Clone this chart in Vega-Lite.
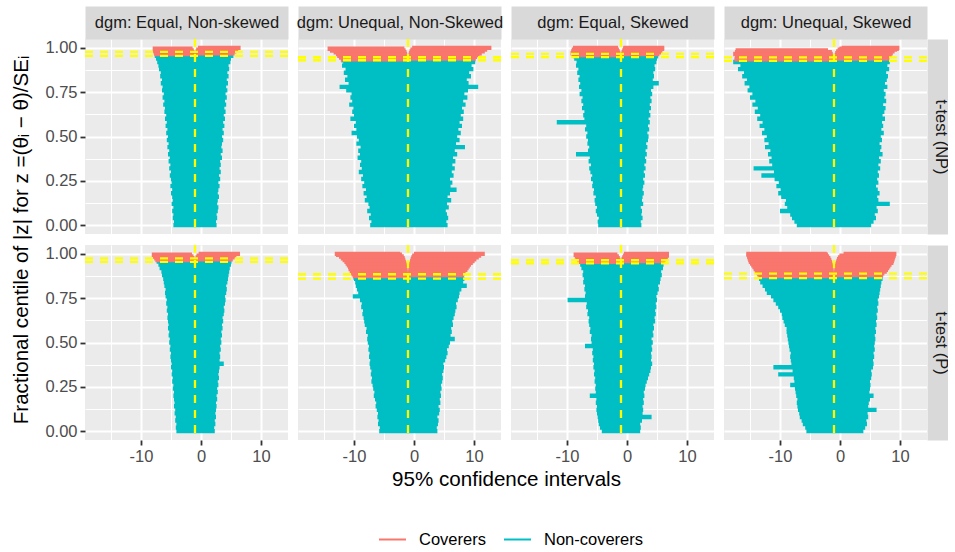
{
"$schema":"https://vega.github.io/schema/vega-lite/v6.json",
"padding":{"left":10,"top":14,"right":0,"bottom":0},
"bounds":"flush",
"columns":4,
"spacing":{"row":11,"column":10},
"resolve":{"scale":{"color":"shared"},"legend":{"color":"shared"}},
"config":{
 "font":"Liberation Sans",
 "view":{"fill":"#EBEBEB","stroke":null},
 "axis":{"domain":false,"labelFont":"Liberation Sans","labelFontSize":16.5,"labelColor":"#4D4D4D","tickColor":"#333333","tickSize":5,"tickWidth":1.8,"gridColor":"#FFFFFF","titleFont":"Liberation Sans","titleFontSize":20.6,"titleColor":"#000000","titleFontWeight":"normal","labelFlush":false,"labelOverlap":false,"labelPadding":3}
},
"datasets":{
"cov":[{"p":"a1","y":0.955},{"p":"a1","y":0.977},{"p":"b1","y":0.930},{"p":"b1","y":0.947},{"p":"c1","y":0.948},{"p":"c1","y":0.966},{"p":"d1","y":0.927},{"p":"d1","y":0.946},{"p":"a2","y":0.955},{"p":"a2","y":0.974},{"p":"b2","y":0.860},{"p":"b2","y":0.885},{"p":"c2","y":0.946},{"p":"c2","y":0.964},{"p":"d2","y":0.863},{"p":"d2","y":0.889}],
"zip":[
{"p":"a1","y":0,"l":-4.6,"u":2.6,"g":"N"},{"p":"a1","y":0.02,"l":-4.5,"u":2.5,"g":"N"},{"p":"a1","y":0.04,"l":-4.7,"u":2.7,"g":"N"},{"p":"a1","y":0.06,"l":-4.6,"u":2.6,"g":"N"},{"p":"a1","y":0.08,"l":-4.8,"u":2.8,"g":"N"},{"p":"a1","y":0.1,"l":-4.6,"u":2.9,"g":"N"},{"p":"a1","y":0.12,"l":-4.9,"u":2.7,"g":"N"},{"p":"a1","y":0.14,"l":-4.7,"u":2.8,"g":"N"},{"p":"a1","y":0.16,"l":-4.8,"u":3.0,"g":"N"},{"p":"a1","y":0.18,"l":-5.0,"u":2.8,"g":"N"},{"p":"a1","y":0.2,"l":-4.8,"u":2.9,"g":"N"},{"p":"a1","y":0.22,"l":-5.1,"u":3.1,"g":"N"},{"p":"a1","y":0.24,"l":-4.9,"u":2.9,"g":"N"},{"p":"a1","y":0.26,"l":-5.0,"u":3.2,"g":"N"},{"p":"a1","y":0.28,"l":-5.2,"u":3.0,"g":"N"},{"p":"a1","y":0.3,"l":-5.0,"u":3.3,"g":"N"},{"p":"a1","y":0.32,"l":-5.3,"u":3.1,"g":"N"},{"p":"a1","y":0.34,"l":-5.1,"u":3.3,"g":"N"},{"p":"a1","y":0.36,"l":-5.4,"u":3.2,"g":"N"},{"p":"a1","y":0.38,"l":-5.2,"u":3.5,"g":"N"},{"p":"a1","y":0.4,"l":-5.5,"u":3.3,"g":"N"},{"p":"a1","y":0.42,"l":-5.3,"u":3.6,"g":"N"},{"p":"a1","y":0.44,"l":-5.6,"u":3.4,"g":"N"},{"p":"a1","y":0.46,"l":-5.4,"u":3.5,"g":"N"},{"p":"a1","y":0.48,"l":-5.7,"u":3.7,"g":"N"},{"p":"a1","y":0.5,"l":-5.5,"u":3.5,"g":"N"},{"p":"a1","y":0.52,"l":-5.8,"u":3.8,"g":"N"},{"p":"a1","y":0.54,"l":-5.6,"u":3.6,"g":"N"},{"p":"a1","y":0.56,"l":-5.9,"u":3.9,"g":"N"},{"p":"a1","y":0.58,"l":-5.7,"u":3.7,"g":"N"},{"p":"a1","y":0.6,"l":-6.0,"u":4.0,"g":"N"},{"p":"a1","y":0.62,"l":-5.8,"u":3.8,"g":"N"},{"p":"a1","y":0.64,"l":-6.1,"u":4.1,"g":"N"},{"p":"a1","y":0.66,"l":-6.0,"u":3.9,"g":"N"},{"p":"a1","y":0.68,"l":-6.3,"u":4.2,"g":"N"},{"p":"a1","y":0.7,"l":-6.1,"u":4.0,"g":"N"},{"p":"a1","y":0.72,"l":-6.4,"u":4.3,"g":"N"},{"p":"a1","y":0.74,"l":-6.2,"u":4.1,"g":"N"},{"p":"a1","y":0.76,"l":-6.5,"u":4.4,"g":"N"},{"p":"a1","y":0.78,"l":-6.4,"u":4.2,"g":"N"},{"p":"a1","y":0.8,"l":-6.7,"u":4.5,"g":"N"},{"p":"a1","y":0.82,"l":-6.5,"u":4.3,"g":"N"},{"p":"a1","y":0.84,"l":-6.8,"u":4.6,"g":"N"},{"p":"a1","y":0.86,"l":-6.7,"u":4.4,"g":"N"},{"p":"a1","y":0.88,"l":-7.0,"u":4.7,"g":"N"},{"p":"a1","y":0.9,"l":-7.1,"u":4.6,"g":"N"},{"p":"a1","y":0.92,"l":-7.3,"u":4.9,"g":"N"},{"p":"a1","y":0.94,"l":-7.5,"u":5.0,"g":"N"},{"p":"a1","y":0.955,"l":-7.7,"u":5.4,"g":"N"},
{"p":"a1","y":0.965,"l":-7.8,"u":-1.05,"g":"C"},{"p":"a1","y":0.97,"l":-0.95,"u":5.6,"g":"C"},{"p":"a1","y":0.975,"l":-7.9,"u":-1.1,"g":"C"},{"p":"a1","y":0.98,"l":-0.9,"u":5.9,"g":"C"},{"p":"a1","y":0.985,"l":-8.0,"u":-1.2,"g":"C"},{"p":"a1","y":0.99,"l":-0.8,"u":6.2,"g":"C"},{"p":"a1","y":0.995,"l":-8.05,"u":-1.4,"g":"C"},{"p":"a1","y":1,"l":-0.5,"u":6.6,"g":"C"},
{"p":"b1","y":0,"l":-7.3,"u":5.6,"g":"N"},{"p":"b1","y":0.02,"l":-7.1,"u":5.4,"g":"N"},{"p":"b1","y":0.04,"l":-7.5,"u":5.7,"g":"N"},{"p":"b1","y":0.06,"l":-7.2,"u":5.5,"g":"N"},{"p":"b1","y":0.08,"l":-7.8,"u":5.3,"g":"N"},{"p":"b1","y":0.1,"l":-7.4,"u":5.8,"g":"N"},{"p":"b1","y":0.12,"l":-7.6,"u":5.5,"g":"N"},{"p":"b1","y":0.14,"l":-8.2,"u":6.2,"g":"N"},{"p":"b1","y":0.16,"l":-7.9,"u":5.6,"g":"N"},{"p":"b1","y":0.18,"l":-8.4,"u":6.0,"g":"N"},{"p":"b1","y":0.2,"l":-8.0,"u":7.1,"g":"N"},{"p":"b1","y":0.22,"l":-8.6,"u":6.1,"g":"N"},{"p":"b1","y":0.24,"l":-8.3,"u":6.4,"g":"N"},{"p":"b1","y":0.26,"l":-8.8,"u":6.0,"g":"N"},{"p":"b1","y":0.28,"l":-8.5,"u":6.6,"g":"N"},{"p":"b1","y":0.3,"l":-9.2,"u":6.3,"g":"N"},{"p":"b1","y":0.32,"l":-8.7,"u":6.8,"g":"N"},{"p":"b1","y":0.34,"l":-9.0,"u":6.4,"g":"N"},{"p":"b1","y":0.36,"l":-8.8,"u":6.9,"g":"N"},{"p":"b1","y":0.38,"l":-9.4,"u":6.5,"g":"N"},{"p":"b1","y":0.4,"l":-9.0,"u":7.2,"g":"N"},{"p":"b1","y":0.42,"l":-9.3,"u":6.8,"g":"N"},{"p":"b1","y":0.44,"l":-8.9,"u":8.5,"g":"N"},{"p":"b1","y":0.46,"l":-9.6,"u":7.0,"g":"N"},{"p":"b1","y":0.48,"l":-9.2,"u":7.6,"g":"N"},{"p":"b1","y":0.5,"l":-9.5,"u":7.2,"g":"N"},{"p":"b1","y":0.52,"l":-10.4,"u":7.8,"g":"N"},{"p":"b1","y":0.54,"l":-9.6,"u":7.4,"g":"N"},{"p":"b1","y":0.56,"l":-10.0,"u":8.0,"g":"N"},{"p":"b1","y":0.58,"l":-9.7,"u":7.6,"g":"N"},{"p":"b1","y":0.6,"l":-10.6,"u":8.2,"g":"N"},{"p":"b1","y":0.62,"l":-10.0,"u":7.8,"g":"N"},{"p":"b1","y":0.64,"l":-10.3,"u":8.3,"g":"N"},{"p":"b1","y":0.66,"l":-10.1,"u":8.0,"g":"N"},{"p":"b1","y":0.68,"l":-10.8,"u":8.6,"g":"N"},{"p":"b1","y":0.7,"l":-10.3,"u":8.2,"g":"N"},{"p":"b1","y":0.72,"l":-10.6,"u":8.9,"g":"N"},{"p":"b1","y":0.74,"l":-10.4,"u":8.4,"g":"N"},{"p":"b1","y":0.76,"l":-11.3,"u":9.0,"g":"N"},{"p":"b1","y":0.78,"l":-12.4,"u":10.7,"g":"N"},{"p":"b1","y":0.8,"l":-10.9,"u":9.1,"g":"N"},{"p":"b1","y":0.82,"l":-11.5,"u":8.8,"g":"N"},{"p":"b1","y":0.84,"l":-11.1,"u":9.5,"g":"N"},{"p":"b1","y":0.86,"l":-11.7,"u":9.2,"g":"N"},{"p":"b1","y":0.88,"l":-11.4,"u":9.9,"g":"N"},{"p":"b1","y":0.9,"l":-12.0,"u":9.6,"g":"N"},{"p":"b1","y":0.92,"l":-11.8,"u":10.2,"g":"N"},{"p":"b1","y":0.93,"l":-12.1,"u":10.2,"g":"N"},
{"p":"b1","y":0.935,"l":-12.2,"u":-1.02,"g":"C"},{"p":"b1","y":0.94,"l":-0.97,"u":10.3,"g":"C"},{"p":"b1","y":0.945,"l":-12.5,"u":-1.05,"g":"C"},{"p":"b1","y":0.95,"l":-0.93,"u":10.5,"g":"C"},{"p":"b1","y":0.955,"l":-12.8,"u":-1.1,"g":"C"},{"p":"b1","y":0.96,"l":-0.9,"u":10.9,"g":"C"},{"p":"b1","y":0.965,"l":-13.0,"u":-1.15,"g":"C"},{"p":"b1","y":0.97,"l":-0.85,"u":11.3,"g":"C"},{"p":"b1","y":0.975,"l":-13.4,"u":-1.25,"g":"C"},{"p":"b1","y":0.98,"l":-0.75,"u":11.8,"g":"C"},{"p":"b1","y":0.985,"l":-14.0,"u":-1.4,"g":"C"},{"p":"b1","y":0.99,"l":-0.6,"u":12.2,"g":"C"},{"p":"b1","y":0.995,"l":-14.4,"u":-1.6,"g":"C"},{"p":"b1","y":1,"l":-0.3,"u":12.9,"g":"C"},
{"p":"c1","y":0,"l":-4.8,"u":2.4,"g":"N"},{"p":"c1","y":0.02,"l":-4.9,"u":2.3,"g":"N"},{"p":"c1","y":0.04,"l":-4.7,"u":2.6,"g":"N"},{"p":"c1","y":0.06,"l":-5.0,"u":2.4,"g":"N"},{"p":"c1","y":0.08,"l":-5.2,"u":2.5,"g":"N"},{"p":"c1","y":0.1,"l":-5.0,"u":2.3,"g":"N"},{"p":"c1","y":0.12,"l":-5.3,"u":2.7,"g":"N"},{"p":"c1","y":0.14,"l":-5.4,"u":2.5,"g":"N"},{"p":"c1","y":0.16,"l":-5.2,"u":2.6,"g":"N"},{"p":"c1","y":0.18,"l":-5.6,"u":2.8,"g":"N"},{"p":"c1","y":0.2,"l":-5.5,"u":2.6,"g":"N"},{"p":"c1","y":0.22,"l":-5.8,"u":2.7,"g":"N"},{"p":"c1","y":0.24,"l":-5.7,"u":2.9,"g":"N"},{"p":"c1","y":0.26,"l":-6.0,"u":2.7,"g":"N"},{"p":"c1","y":0.28,"l":-5.8,"u":3.0,"g":"N"},{"p":"c1","y":0.3,"l":-6.1,"u":2.8,"g":"N"},{"p":"c1","y":0.32,"l":-6.3,"u":3.1,"g":"N"},{"p":"c1","y":0.34,"l":-6.0,"u":2.9,"g":"N"},{"p":"c1","y":0.36,"l":-6.4,"u":3.2,"g":"N"},{"p":"c1","y":0.38,"l":-6.2,"u":3.0,"g":"N"},{"p":"c1","y":0.4,"l":-8.5,"u":3.3,"g":"N"},{"p":"c1","y":0.42,"l":-6.5,"u":3.1,"g":"N"},{"p":"c1","y":0.44,"l":-6.3,"u":3.4,"g":"N"},{"p":"c1","y":0.46,"l":-6.6,"u":3.2,"g":"N"},{"p":"c1","y":0.48,"l":-6.5,"u":3.5,"g":"N"},{"p":"c1","y":0.5,"l":-6.8,"u":3.6,"g":"N"},{"p":"c1","y":0.52,"l":-6.6,"u":3.4,"g":"N"},{"p":"c1","y":0.54,"l":-7.0,"u":3.7,"g":"N"},{"p":"c1","y":0.56,"l":-6.8,"u":3.5,"g":"N"},{"p":"c1","y":0.58,"l":-11.7,"u":3.8,"g":"N"},{"p":"c1","y":0.6,"l":-7.1,"u":3.6,"g":"N"},{"p":"c1","y":0.62,"l":-7.3,"u":3.9,"g":"N"},{"p":"c1","y":0.64,"l":-7.1,"u":3.7,"g":"N"},{"p":"c1","y":0.66,"l":-7.5,"u":4.0,"g":"N"},{"p":"c1","y":0.68,"l":-7.3,"u":3.8,"g":"N"},{"p":"c1","y":0.7,"l":-7.6,"u":4.1,"g":"N"},{"p":"c1","y":0.72,"l":-7.4,"u":3.9,"g":"N"},{"p":"c1","y":0.74,"l":-7.9,"u":4.2,"g":"N"},{"p":"c1","y":0.76,"l":-7.6,"u":4.0,"g":"N"},{"p":"c1","y":0.78,"l":-8.0,"u":4.4,"g":"N"},{"p":"c1","y":0.8,"l":-7.8,"u":5.3,"g":"N"},{"p":"c1","y":0.82,"l":-8.1,"u":4.3,"g":"N"},{"p":"c1","y":0.84,"l":-7.9,"u":4.5,"g":"N"},{"p":"c1","y":0.86,"l":-8.3,"u":4.4,"g":"N"},{"p":"c1","y":0.88,"l":-8.1,"u":4.7,"g":"N"},{"p":"c1","y":0.9,"l":-8.5,"u":4.6,"g":"N"},{"p":"c1","y":0.92,"l":-8.4,"u":4.9,"g":"N"},{"p":"c1","y":0.94,"l":-8.8,"u":5.0,"g":"N"},{"p":"c1","y":0.952,"l":-8.9,"u":5.2,"g":"N"},
{"p":"c1","y":0.96,"l":-9.2,"u":-1.05,"g":"C"},{"p":"c1","y":0.965,"l":-0.95,"u":5.4,"g":"C"},{"p":"c1","y":0.97,"l":-9.4,"u":-1.1,"g":"C"},{"p":"c1","y":0.975,"l":-0.9,"u":5.7,"g":"C"},{"p":"c1","y":0.98,"l":-9.3,"u":-1.2,"g":"C"},{"p":"c1","y":0.985,"l":-0.8,"u":5.9,"g":"C"},{"p":"c1","y":0.99,"l":-9.2,"u":-1.35,"g":"C"},{"p":"c1","y":0.995,"l":-0.65,"u":6.2,"g":"C"},{"p":"c1","y":1,"l":-9.0,"u":-1.5,"g":"C"},{"p":"c1","y":1,"l":-0.6,"u":6.2,"g":"C"},
{"p":"d1","y":0,"l":-7.2,"u":5.2,"g":"N"},{"p":"d1","y":0.02,"l":-7.6,"u":5.6,"g":"N"},{"p":"d1","y":0.04,"l":-8.0,"u":6.0,"g":"N"},{"p":"d1","y":0.06,"l":-8.3,"u":5.8,"g":"N"},{"p":"d1","y":0.08,"l":-10.0,"u":6.3,"g":"N"},{"p":"d1","y":0.1,"l":-8.8,"u":6.1,"g":"N"},{"p":"d1","y":0.12,"l":-9.2,"u":8.3,"g":"N"},{"p":"d1","y":0.14,"l":-9.0,"u":6.4,"g":"N"},{"p":"d1","y":0.16,"l":-9.8,"u":6.2,"g":"N"},{"p":"d1","y":0.18,"l":-10.3,"u":6.6,"g":"N"},{"p":"d1","y":0.2,"l":-9.9,"u":6.3,"g":"N"},{"p":"d1","y":0.22,"l":-10.6,"u":6.0,"g":"N"},{"p":"d1","y":0.24,"l":-10.2,"u":6.4,"g":"N"},{"p":"d1","y":0.26,"l":-10.9,"u":6.2,"g":"N"},{"p":"d1","y":0.28,"l":-13.1,"u":6.5,"g":"N"},{"p":"d1","y":0.3,"l":-11.0,"u":6.3,"g":"N"},{"p":"d1","y":0.32,"l":-14.4,"u":6.7,"g":"N"},{"p":"d1","y":0.34,"l":-11.3,"u":6.4,"g":"N"},{"p":"d1","y":0.36,"l":-11.8,"u":6.8,"g":"N"},{"p":"d1","y":0.38,"l":-11.4,"u":6.5,"g":"N"},{"p":"d1","y":0.4,"l":-12.0,"u":7.1,"g":"N"},{"p":"d1","y":0.42,"l":-11.6,"u":6.7,"g":"N"},{"p":"d1","y":0.44,"l":-12.5,"u":6.9,"g":"N"},{"p":"d1","y":0.46,"l":-11.9,"u":6.6,"g":"N"},{"p":"d1","y":0.48,"l":-12.6,"u":7.0,"g":"N"},{"p":"d1","y":0.5,"l":-12.2,"u":6.8,"g":"N"},{"p":"d1","y":0.52,"l":-13.0,"u":7.3,"g":"N"},{"p":"d1","y":0.54,"l":-12.6,"u":6.9,"g":"N"},{"p":"d1","y":0.56,"l":-13.4,"u":7.2,"g":"N"},{"p":"d1","y":0.58,"l":-12.9,"u":7.0,"g":"N"},{"p":"d1","y":0.6,"l":-13.8,"u":7.5,"g":"N"},{"p":"d1","y":0.62,"l":-13.3,"u":7.1,"g":"N"},{"p":"d1","y":0.64,"l":-14.2,"u":7.4,"g":"N"},{"p":"d1","y":0.66,"l":-13.7,"u":7.6,"g":"N"},{"p":"d1","y":0.68,"l":-14.6,"u":7.2,"g":"N"},{"p":"d1","y":0.7,"l":-14.1,"u":7.7,"g":"N"},{"p":"d1","y":0.72,"l":-15.0,"u":7.4,"g":"N"},{"p":"d1","y":0.74,"l":-14.6,"u":7.6,"g":"N"},{"p":"d1","y":0.76,"l":-15.4,"u":7.3,"g":"N"},{"p":"d1","y":0.78,"l":-15.1,"u":7.9,"g":"N"},{"p":"d1","y":0.8,"l":-15.9,"u":7.5,"g":"N"},{"p":"d1","y":0.82,"l":-15.5,"u":7.8,"g":"N"},{"p":"d1","y":0.84,"l":-16.3,"u":8.0,"g":"N"},{"p":"d1","y":0.86,"l":-16.0,"u":7.7,"g":"N"},{"p":"d1","y":0.88,"l":-17.0,"u":8.2,"g":"N"},{"p":"d1","y":0.9,"l":-16.6,"u":7.9,"g":"N"},{"p":"d1","y":0.92,"l":-17.8,"u":8.3,"g":"N"},{"p":"d1","y":0.928,"l":-17.3,"u":8.1,"g":"N"},
{"p":"d1","y":0.935,"l":-17.6,"u":-1.02,"g":"C"},{"p":"d1","y":0.94,"l":-0.97,"u":8.2,"g":"C"},{"p":"d1","y":0.945,"l":-17.2,"u":-1.05,"g":"C"},{"p":"d1","y":0.95,"l":-0.93,"u":8.3,"g":"C"},{"p":"d1","y":0.955,"l":-17.5,"u":-1.1,"g":"C"},{"p":"d1","y":0.96,"l":-0.88,"u":8.6,"g":"C"},{"p":"d1","y":0.965,"l":-17.8,"u":-1.2,"g":"C"},{"p":"d1","y":0.97,"l":-0.8,"u":8.8,"g":"C"},{"p":"d1","y":0.975,"l":-17.5,"u":-1.35,"g":"C"},{"p":"d1","y":0.98,"l":-0.65,"u":9.1,"g":"C"},{"p":"d1","y":0.985,"l":-17.4,"u":-2.0,"g":"C"},{"p":"d1","y":0.99,"l":-0.4,"u":9.5,"g":"C"},{"p":"d1","y":0.995,"l":-0.1,"u":9.8,"g":"C"},{"p":"d1","y":1,"l":0.3,"u":9.9,"g":"C"},
{"p":"a2","y":0,"l":-4.1,"u":2.3,"g":"N"},{"p":"a2","y":0.02,"l":-4.2,"u":2.2,"g":"N"},{"p":"a2","y":0.04,"l":-4.1,"u":2.4,"g":"N"},{"p":"a2","y":0.06,"l":-4.3,"u":2.3,"g":"N"},{"p":"a2","y":0.08,"l":-4.2,"u":2.5,"g":"N"},{"p":"a2","y":0.1,"l":-4.4,"u":2.4,"g":"N"},{"p":"a2","y":0.12,"l":-4.3,"u":2.5,"g":"N"},{"p":"a2","y":0.14,"l":-4.5,"u":2.6,"g":"N"},{"p":"a2","y":0.16,"l":-4.4,"u":2.5,"g":"N"},{"p":"a2","y":0.18,"l":-4.5,"u":2.7,"g":"N"},{"p":"a2","y":0.2,"l":-4.6,"u":2.6,"g":"N"},{"p":"a2","y":0.22,"l":-4.5,"u":2.8,"g":"N"},{"p":"a2","y":0.24,"l":-4.7,"u":2.7,"g":"N"},{"p":"a2","y":0.26,"l":-4.6,"u":2.9,"g":"N"},{"p":"a2","y":0.28,"l":-4.8,"u":2.8,"g":"N"},{"p":"a2","y":0.3,"l":-4.7,"u":3.0,"g":"N"},{"p":"a2","y":0.32,"l":-4.9,"u":2.9,"g":"N"},{"p":"a2","y":0.34,"l":-4.8,"u":3.0,"g":"N"},{"p":"a2","y":0.36,"l":-5.0,"u":3.1,"g":"N"},{"p":"a2","y":0.38,"l":-4.9,"u":3.8,"g":"N"},{"p":"a2","y":0.4,"l":-5.0,"u":3.1,"g":"N"},{"p":"a2","y":0.42,"l":-5.1,"u":3.2,"g":"N"},{"p":"a2","y":0.44,"l":-5.0,"u":3.1,"g":"N"},{"p":"a2","y":0.46,"l":-5.2,"u":3.3,"g":"N"},{"p":"a2","y":0.48,"l":-5.1,"u":3.2,"g":"N"},{"p":"a2","y":0.5,"l":-5.3,"u":3.4,"g":"N"},{"p":"a2","y":0.52,"l":-5.2,"u":3.3,"g":"N"},{"p":"a2","y":0.54,"l":-5.4,"u":3.5,"g":"N"},{"p":"a2","y":0.56,"l":-5.3,"u":3.4,"g":"N"},{"p":"a2","y":0.58,"l":-5.5,"u":3.6,"g":"N"},{"p":"a2","y":0.6,"l":-5.4,"u":3.5,"g":"N"},{"p":"a2","y":0.62,"l":-5.5,"u":3.7,"g":"N"},{"p":"a2","y":0.64,"l":-5.6,"u":3.6,"g":"N"},{"p":"a2","y":0.66,"l":-5.5,"u":3.8,"g":"N"},{"p":"a2","y":0.68,"l":-5.7,"u":3.9,"g":"N"},{"p":"a2","y":0.7,"l":-5.6,"u":3.8,"g":"N"},{"p":"a2","y":0.72,"l":-5.8,"u":4.0,"g":"N"},{"p":"a2","y":0.74,"l":-5.7,"u":4.1,"g":"N"},{"p":"a2","y":0.76,"l":-5.9,"u":4.0,"g":"N"},{"p":"a2","y":0.78,"l":-6.0,"u":4.2,"g":"N"},{"p":"a2","y":0.8,"l":-5.9,"u":4.3,"g":"N"},{"p":"a2","y":0.82,"l":-6.1,"u":4.2,"g":"N"},{"p":"a2","y":0.84,"l":-6.2,"u":4.4,"g":"N"},{"p":"a2","y":0.86,"l":-6.3,"u":4.5,"g":"N"},{"p":"a2","y":0.88,"l":-6.5,"u":4.6,"g":"N"},{"p":"a2","y":0.9,"l":-6.6,"u":4.7,"g":"N"},{"p":"a2","y":0.92,"l":-6.9,"u":4.8,"g":"N"},{"p":"a2","y":0.94,"l":-7.1,"u":5.0,"g":"N"},{"p":"a2","y":0.956,"l":-7.4,"u":5.1,"g":"N"},
{"p":"a2","y":0.965,"l":-7.6,"u":-1.05,"g":"C"},{"p":"a2","y":0.97,"l":-0.95,"u":5.3,"g":"C"},{"p":"a2","y":0.975,"l":-7.8,"u":-1.1,"g":"C"},{"p":"a2","y":0.98,"l":-0.9,"u":5.6,"g":"C"},{"p":"a2","y":0.985,"l":-8.0,"u":-1.25,"g":"C"},{"p":"a2","y":0.99,"l":-0.75,"u":5.9,"g":"C"},{"p":"a2","y":0.995,"l":-8.2,"u":-1.5,"g":"C"},{"p":"a2","y":1,"l":-0.4,"u":6.5,"g":"C"},
{"p":"b2","y":0,"l":-5.8,"u":3.9,"g":"N"},{"p":"b2","y":0.02,"l":-5.7,"u":3.8,"g":"N"},{"p":"b2","y":0.04,"l":-6.0,"u":4.0,"g":"N"},{"p":"b2","y":0.06,"l":-5.9,"u":4.1,"g":"N"},{"p":"b2","y":0.08,"l":-6.1,"u":3.9,"g":"N"},{"p":"b2","y":0.1,"l":-6.0,"u":4.2,"g":"N"},{"p":"b2","y":0.12,"l":-6.2,"u":4.3,"g":"N"},{"p":"b2","y":0.14,"l":-6.4,"u":4.1,"g":"N"},{"p":"b2","y":0.16,"l":-6.3,"u":4.4,"g":"N"},{"p":"b2","y":0.18,"l":-6.5,"u":4.3,"g":"N"},{"p":"b2","y":0.2,"l":-6.7,"u":4.5,"g":"N"},{"p":"b2","y":0.22,"l":-6.6,"u":4.4,"g":"N"},{"p":"b2","y":0.24,"l":-6.8,"u":4.6,"g":"N"},{"p":"b2","y":0.26,"l":-6.9,"u":4.5,"g":"N"},{"p":"b2","y":0.28,"l":-7.1,"u":4.7,"g":"N"},{"p":"b2","y":0.3,"l":-7.0,"u":4.8,"g":"N"},{"p":"b2","y":0.32,"l":-7.2,"u":4.7,"g":"N"},{"p":"b2","y":0.34,"l":-7.1,"u":4.9,"g":"N"},{"p":"b2","y":0.36,"l":-7.3,"u":5.0,"g":"N"},{"p":"b2","y":0.38,"l":-7.4,"u":4.9,"g":"N"},{"p":"b2","y":0.4,"l":-7.3,"u":5.2,"g":"N"},{"p":"b2","y":0.42,"l":-7.5,"u":5.4,"g":"N"},{"p":"b2","y":0.44,"l":-7.4,"u":5.6,"g":"N"},{"p":"b2","y":0.46,"l":-7.6,"u":5.5,"g":"N"},{"p":"b2","y":0.48,"l":-7.5,"u":5.8,"g":"N"},{"p":"b2","y":0.5,"l":-7.7,"u":6.0,"g":"N"},{"p":"b2","y":0.52,"l":-7.8,"u":6.8,"g":"N"},{"p":"b2","y":0.54,"l":-7.7,"u":6.1,"g":"N"},{"p":"b2","y":0.56,"l":-8.0,"u":6.3,"g":"N"},{"p":"b2","y":0.58,"l":-7.9,"u":6.2,"g":"N"},{"p":"b2","y":0.6,"l":-8.2,"u":6.5,"g":"N"},{"p":"b2","y":0.62,"l":-8.3,"u":6.4,"g":"N"},{"p":"b2","y":0.64,"l":-8.4,"u":6.6,"g":"N"},{"p":"b2","y":0.66,"l":-8.6,"u":6.8,"g":"N"},{"p":"b2","y":0.68,"l":-8.5,"u":6.9,"g":"N"},{"p":"b2","y":0.7,"l":-8.8,"u":7.1,"g":"N"},{"p":"b2","y":0.72,"l":-8.7,"u":7.0,"g":"N"},{"p":"b2","y":0.74,"l":-9.0,"u":7.3,"g":"N"},{"p":"b2","y":0.76,"l":-10.2,"u":7.5,"g":"N"},{"p":"b2","y":0.78,"l":-9.3,"u":7.6,"g":"N"},{"p":"b2","y":0.8,"l":-9.5,"u":7.9,"g":"N"},{"p":"b2","y":0.82,"l":-9.7,"u":8.8,"g":"N"},{"p":"b2","y":0.84,"l":-9.8,"u":8.2,"g":"N"},{"p":"b2","y":0.86,"l":-10.0,"u":8.4,"g":"N"},{"p":"b2","y":0.866,"l":-10.1,"u":8.3,"g":"N"},
{"p":"b2","y":0.875,"l":-10.2,"u":-1.02,"g":"C"},{"p":"b2","y":0.88,"l":-0.98,"u":8.3,"g":"C"},{"p":"b2","y":0.885,"l":-10.4,"u":-1.03,"g":"C"},{"p":"b2","y":0.89,"l":-0.97,"u":8.5,"g":"C"},{"p":"b2","y":0.895,"l":-10.6,"u":-1.05,"g":"C"},{"p":"b2","y":0.9,"l":-0.95,"u":8.6,"g":"C"},{"p":"b2","y":0.905,"l":-10.7,"u":-1.08,"g":"C"},{"p":"b2","y":0.91,"l":-0.92,"u":8.9,"g":"C"},{"p":"b2","y":0.915,"l":-10.9,"u":-1.1,"g":"C"},{"p":"b2","y":0.92,"l":-0.88,"u":9.1,"g":"C"},{"p":"b2","y":0.925,"l":-11.0,"u":-1.15,"g":"C"},{"p":"b2","y":0.93,"l":-0.85,"u":9.3,"g":"C"},{"p":"b2","y":0.935,"l":-11.2,"u":-1.2,"g":"C"},{"p":"b2","y":0.94,"l":-0.8,"u":9.5,"g":"C"},{"p":"b2","y":0.945,"l":-11.4,"u":-1.25,"g":"C"},{"p":"b2","y":0.95,"l":-0.72,"u":9.8,"g":"C"},{"p":"b2","y":0.955,"l":-11.6,"u":-1.35,"g":"C"},{"p":"b2","y":0.96,"l":-0.65,"u":10.1,"g":"C"},{"p":"b2","y":0.965,"l":-11.9,"u":-1.45,"g":"C"},{"p":"b2","y":0.97,"l":-0.55,"u":10.4,"g":"C"},{"p":"b2","y":0.975,"l":-12.2,"u":-1.55,"g":"C"},{"p":"b2","y":0.98,"l":-0.45,"u":10.8,"g":"C"},{"p":"b2","y":0.985,"l":-12.5,"u":-1.7,"g":"C"},{"p":"b2","y":0.99,"l":-0.3,"u":11.2,"g":"C"},{"p":"b2","y":0.995,"l":-13.0,"u":-2.0,"g":"C"},{"p":"b2","y":1,"l":0.0,"u":11.8,"g":"C"},{"p":"b2","y":1,"l":-13.2,"u":-2.3,"g":"C"},
{"p":"c2","y":0,"l":-4.2,"u":2.2,"g":"N"},{"p":"c2","y":0.02,"l":-4.5,"u":2.3,"g":"N"},{"p":"c2","y":0.04,"l":-4.7,"u":2.2,"g":"N"},{"p":"c2","y":0.06,"l":-4.8,"u":2.5,"g":"N"},{"p":"c2","y":0.08,"l":-4.9,"u":4.1,"g":"N"},{"p":"c2","y":0.1,"l":-5.0,"u":2.6,"g":"N"},{"p":"c2","y":0.12,"l":-5.1,"u":2.7,"g":"N"},{"p":"c2","y":0.14,"l":-5.0,"u":2.6,"g":"N"},{"p":"c2","y":0.16,"l":-5.2,"u":2.8,"g":"N"},{"p":"c2","y":0.18,"l":-5.1,"u":2.7,"g":"N"},{"p":"c2","y":0.2,"l":-6.2,"u":2.9,"g":"N"},{"p":"c2","y":0.22,"l":-5.2,"u":2.8,"g":"N"},{"p":"c2","y":0.24,"l":-5.3,"u":3.0,"g":"N"},{"p":"c2","y":0.26,"l":-5.2,"u":3.1,"g":"N"},{"p":"c2","y":0.28,"l":-5.4,"u":3.3,"g":"N"},{"p":"c2","y":0.3,"l":-5.3,"u":3.5,"g":"N"},{"p":"c2","y":0.32,"l":-5.5,"u":3.7,"g":"N"},{"p":"c2","y":0.34,"l":-5.4,"u":3.9,"g":"N"},{"p":"c2","y":0.36,"l":-5.6,"u":4.0,"g":"N"},{"p":"c2","y":0.38,"l":-5.5,"u":4.2,"g":"N"},{"p":"c2","y":0.4,"l":-5.7,"u":4.0,"g":"N"},{"p":"c2","y":0.42,"l":-5.6,"u":4.1,"g":"N"},{"p":"c2","y":0.44,"l":-5.8,"u":4.0,"g":"N"},{"p":"c2","y":0.46,"l":-5.7,"u":4.2,"g":"N"},{"p":"c2","y":0.48,"l":-7.0,"u":4.1,"g":"N"},{"p":"c2","y":0.5,"l":-5.9,"u":4.3,"g":"N"},{"p":"c2","y":0.52,"l":-6.0,"u":4.1,"g":"N"},{"p":"c2","y":0.54,"l":-5.9,"u":4.4,"g":"N"},{"p":"c2","y":0.56,"l":-6.2,"u":4.3,"g":"N"},{"p":"c2","y":0.58,"l":-6.1,"u":4.5,"g":"N"},{"p":"c2","y":0.6,"l":-6.3,"u":4.4,"g":"N"},{"p":"c2","y":0.62,"l":-6.4,"u":4.7,"g":"N"},{"p":"c2","y":0.64,"l":-6.3,"u":4.6,"g":"N"},{"p":"c2","y":0.66,"l":-6.6,"u":4.8,"g":"N"},{"p":"c2","y":0.68,"l":-6.5,"u":4.7,"g":"N"},{"p":"c2","y":0.7,"l":-6.8,"u":4.9,"g":"N"},{"p":"c2","y":0.72,"l":-6.7,"u":4.8,"g":"N"},{"p":"c2","y":0.74,"l":-9.9,"u":5.0,"g":"N"},{"p":"c2","y":0.76,"l":-7.0,"u":4.9,"g":"N"},{"p":"c2","y":0.78,"l":-6.9,"u":5.1,"g":"N"},{"p":"c2","y":0.8,"l":-7.1,"u":5.3,"g":"N"},{"p":"c2","y":0.82,"l":-7.0,"u":5.2,"g":"N"},{"p":"c2","y":0.84,"l":-7.3,"u":5.5,"g":"N"},{"p":"c2","y":0.86,"l":-7.2,"u":5.6,"g":"N"},{"p":"c2","y":0.88,"l":-7.4,"u":5.8,"g":"N"},{"p":"c2","y":0.9,"l":-7.3,"u":5.7,"g":"N"},{"p":"c2","y":0.92,"l":-7.6,"u":6.0,"g":"N"},{"p":"c2","y":0.94,"l":-7.8,"u":6.1,"g":"N"},{"p":"c2","y":0.947,"l":-7.7,"u":6.0,"g":"N"},
{"p":"c2","y":0.955,"l":-8.0,"u":-1.05,"g":"C"},{"p":"c2","y":0.96,"l":-0.95,"u":6.3,"g":"C"},{"p":"c2","y":0.965,"l":-8.3,"u":-1.1,"g":"C"},{"p":"c2","y":0.97,"l":-0.9,"u":6.5,"g":"C"},{"p":"c2","y":0.975,"l":-8.5,"u":-1.2,"g":"C"},{"p":"c2","y":0.98,"l":-0.8,"u":6.8,"g":"C"},{"p":"c2","y":0.985,"l":-8.7,"u":-1.35,"g":"C"},{"p":"c2","y":0.99,"l":-0.65,"u":7.0,"g":"C"},{"p":"c2","y":0.995,"l":-8.9,"u":-1.6,"g":"C"},{"p":"c2","y":1,"l":-0.5,"u":7.0,"g":"C"},
{"p":"d2","y":0,"l":-5.6,"u":3.9,"g":"N"},{"p":"d2","y":0.02,"l":-5.8,"u":4.2,"g":"N"},{"p":"d2","y":0.04,"l":-6.2,"u":4.5,"g":"N"},{"p":"d2","y":0.06,"l":-6.4,"u":4.4,"g":"N"},{"p":"d2","y":0.08,"l":-6.7,"u":4.7,"g":"N"},{"p":"d2","y":0.1,"l":-6.8,"u":4.6,"g":"N"},{"p":"d2","y":0.12,"l":-7.0,"u":6.1,"g":"N"},{"p":"d2","y":0.14,"l":-7.1,"u":4.7,"g":"N"},{"p":"d2","y":0.16,"l":-7.2,"u":4.8,"g":"N"},{"p":"d2","y":0.18,"l":-7.1,"u":5.0,"g":"N"},{"p":"d2","y":0.2,"l":-7.3,"u":5.6,"g":"N"},{"p":"d2","y":0.22,"l":-7.4,"u":4.9,"g":"N"},{"p":"d2","y":0.24,"l":-7.5,"u":5.0,"g":"N"},{"p":"d2","y":0.26,"l":-8.3,"u":5.1,"g":"N"},{"p":"d2","y":0.28,"l":-7.6,"u":5.0,"g":"N"},{"p":"d2","y":0.3,"l":-7.7,"u":5.2,"g":"N"},{"p":"d2","y":0.32,"l":-10.3,"u":5.3,"g":"N"},{"p":"d2","y":0.34,"l":-7.9,"u":5.2,"g":"N"},{"p":"d2","y":0.36,"l":-11.1,"u":5.5,"g":"N"},{"p":"d2","y":0.38,"l":-8.1,"u":5.6,"g":"N"},{"p":"d2","y":0.4,"l":-8.2,"u":5.5,"g":"N"},{"p":"d2","y":0.42,"l":-8.3,"u":5.7,"g":"N"},{"p":"d2","y":0.44,"l":-8.2,"u":5.6,"g":"N"},{"p":"d2","y":0.46,"l":-8.4,"u":5.8,"g":"N"},{"p":"d2","y":0.48,"l":-8.5,"u":5.7,"g":"N"},{"p":"d2","y":0.5,"l":-8.6,"u":5.8,"g":"N"},{"p":"d2","y":0.52,"l":-8.7,"u":5.9,"g":"N"},{"p":"d2","y":0.54,"l":-8.8,"u":5.8,"g":"N"},{"p":"d2","y":0.56,"l":-8.9,"u":6.0,"g":"N"},{"p":"d2","y":0.58,"l":-8.9,"u":5.9,"g":"N"},{"p":"d2","y":0.6,"l":-9.2,"u":6.1,"g":"N"},{"p":"d2","y":0.62,"l":-9.4,"u":6.0,"g":"N"},{"p":"d2","y":0.64,"l":-9.6,"u":6.2,"g":"N"},{"p":"d2","y":0.66,"l":-9.7,"u":6.1,"g":"N"},{"p":"d2","y":0.68,"l":-10.0,"u":6.3,"g":"N"},{"p":"d2","y":0.7,"l":-10.3,"u":6.2,"g":"N"},{"p":"d2","y":0.72,"l":-10.7,"u":6.4,"g":"N"},{"p":"d2","y":0.74,"l":-11.1,"u":6.3,"g":"N"},{"p":"d2","y":0.76,"l":-11.5,"u":6.5,"g":"N"},{"p":"d2","y":0.78,"l":-12.2,"u":6.6,"g":"N"},{"p":"d2","y":0.8,"l":-12.5,"u":6.7,"g":"N"},{"p":"d2","y":0.82,"l":-12.9,"u":6.8,"g":"N"},{"p":"d2","y":0.84,"l":-13.3,"u":6.9,"g":"N"},{"p":"d2","y":0.86,"l":-13.5,"u":7.1,"g":"N"},{"p":"d2","y":0.868,"l":-13.4,"u":7.0,"g":"N"},
{"p":"d2","y":0.875,"l":-13.6,"u":-1.02,"g":"C"},{"p":"d2","y":0.88,"l":-0.98,"u":7.2,"g":"C"},{"p":"d2","y":0.885,"l":-13.8,"u":-1.03,"g":"C"},{"p":"d2","y":0.89,"l":-0.97,"u":7.4,"g":"C"},{"p":"d2","y":0.895,"l":-14.0,"u":-1.05,"g":"C"},{"p":"d2","y":0.9,"l":-0.95,"u":7.8,"g":"C"},{"p":"d2","y":0.905,"l":-14.2,"u":-1.08,"g":"C"},{"p":"d2","y":0.91,"l":-0.92,"u":8.0,"g":"C"},{"p":"d2","y":0.915,"l":-14.4,"u":-1.1,"g":"C"},{"p":"d2","y":0.92,"l":-0.88,"u":8.2,"g":"C"},{"p":"d2","y":0.925,"l":-14.6,"u":-1.15,"g":"C"},{"p":"d2","y":0.93,"l":-0.84,"u":8.4,"g":"C"},{"p":"d2","y":0.935,"l":-14.8,"u":-1.2,"g":"C"},{"p":"d2","y":0.94,"l":-0.78,"u":8.6,"g":"C"},{"p":"d2","y":0.945,"l":-15.0,"u":-1.27,"g":"C"},{"p":"d2","y":0.95,"l":-0.7,"u":8.9,"g":"C"},{"p":"d2","y":0.955,"l":-15.2,"u":-1.35,"g":"C"},{"p":"d2","y":0.96,"l":-0.6,"u":9.0,"g":"C"},{"p":"d2","y":0.965,"l":-15.3,"u":-1.45,"g":"C"},{"p":"d2","y":0.97,"l":-0.5,"u":9.1,"g":"C"},{"p":"d2","y":0.975,"l":-15.4,"u":-1.6,"g":"C"},{"p":"d2","y":0.98,"l":-0.35,"u":9.2,"g":"C"},{"p":"d2","y":0.985,"l":-15.5,"u":-1.8,"g":"C"},{"p":"d2","y":0.99,"l":-0.1,"u":9.3,"g":"C"},{"p":"d2","y":0.995,"l":-15.6,"u":-2.0,"g":"C"},{"p":"d2","y":1,"l":0.6,"u":9.4,"g":"C"},{"p":"d2","y":1,"l":-15.6,"u":-2.2,"g":"C"}
]},
"concat":[
{"width":203,"height":195,"resolve":{"axis":{"x":"independent","y":"independent"}},"layer":[
 {"data":{"name":"zip"},"transform":[{"filter":"datum.p=='a1'"}],"mark":{"type":"rule","strokeWidth":4.4},"encoding":{
  "x":{"field":"l","type":"quantitative","scale":{"domain":[-19.33,14.5],"nice":false,"zero":false},"axis":{"values":[-15,-10,-5,0,5,10],"ticks":false,"labels":false,"title":null,"gridWidth":{"condition":{"test":"datum.value % 10 == 0","value":2},"value":1}}},
  "x2":{"field":"u"},
  "y":{"field":"y","type":"quantitative","scale":{"domain":[-0.05,1.05],"nice":false,"zero":false},"axis":{"values":[0,0.125,0.25,0.375,0.5,0.625,0.75,0.875,1],"labelExpr":"(datum.value*4) % 1 == 0 ? format(datum.value,'.2f') : ''","tickOpacity":{"condition":{"test":"(datum.value*4) % 1 == 0","value":1},"value":0},"gridWidth":{"condition":{"test":"(datum.value*4) % 1 == 0","value":2},"value":1},"title":"Fractional centile of |z| for z =(θᵢ − θ)/SEᵢ","titleX":-58,"titleY":200.5,"titleAngle":270,"titleBaseline":"alphabetic","titleAlign":"center"}},
  "color":{"field":"g","type":"nominal","scale":{"domain":["C","N"],"range":["#F8766D","#00BFC4"]},"legend":{"title":null,"orient":"none","legendX":293,"legendY":486,"direction":"horizontal","symbolType":"stroke","symbolStrokeWidth":2,"symbolSize":729,"labelFontSize":16.5,"labelColor":"#000000","labelFont":"Liberation Sans","labelOffset":12,"columnPadding":14,"labelExpr":"datum.label == 'C' ? 'Coverers' : 'Non-coverers'"}}}},
 {"data":{"name":"cov"},"transform":[{"filter":"datum.p=='a1'"}],"mark":{"type":"rule","color":"#FFFF00","strokeDash":[8,7],"strokeWidth":2.3},"encoding":{"y":{"field":"y","type":"quantitative","scale":{"domain":[-0.05,1.05],"nice":false,"zero":false},"axis":null}}},
 {"data":{"values":[{"t":-1}]},"mark":{"type":"rule","color":"#FFFF00","strokeDash":[8,7],"strokeWidth":2.3},"encoding":{"x":{"field":"t","type":"quantitative","scale":{"domain":[-19.33,14.5],"nice":false,"zero":false},"axis":{"orient":"top","domain":true,"domainColor":"#D9D9D9","domainWidth":33,"offset":16.5,"ticks":false,"labels":false,"grid":false,"title":"dgm: Equal, Non-skewed","titleFontSize":16.5,"titleColor":"#1A1A1A","titleY":4.8,"titleBaseline":"alphabetic","titleAlign":"center"}}}}
]},
{"width":203,"height":195,"resolve":{"axis":{"x":"independent","y":"independent"}},"layer":[
 {"data":{"name":"zip"},"transform":[{"filter":"datum.p=='b1'"}],"mark":{"type":"rule","strokeWidth":4.4},"encoding":{
  "x":{"field":"l","type":"quantitative","scale":{"domain":[-19.33,14.5],"nice":false,"zero":false},"axis":{"values":[-15,-10,-5,0,5,10],"ticks":false,"labels":false,"title":null,"gridWidth":{"condition":{"test":"datum.value % 10 == 0","value":2},"value":1}}},
  "x2":{"field":"u"},
  "y":{"field":"y","type":"quantitative","scale":{"domain":[-0.05,1.05],"nice":false,"zero":false},"axis":{"values":[0,0.125,0.25,0.375,0.5,0.625,0.75,0.875,1],"ticks":false,"labels":false,"title":null,"gridWidth":{"condition":{"test":"(datum.value*4) % 1 == 0","value":2},"value":1}}},
  "color":{"field":"g","type":"nominal","scale":{"domain":["C","N"],"range":["#F8766D","#00BFC4"]},"legend":{"title":null,"orient":"none","legendX":293,"legendY":486,"direction":"horizontal","symbolType":"stroke","symbolStrokeWidth":2,"symbolSize":729,"labelFontSize":16.5,"labelColor":"#000000","labelFont":"Liberation Sans","labelOffset":12,"columnPadding":14,"labelExpr":"datum.label == 'C' ? 'Coverers' : 'Non-coverers'"}}}},
 {"data":{"name":"cov"},"transform":[{"filter":"datum.p=='b1'"}],"mark":{"type":"rule","color":"#FFFF00","strokeDash":[8,7],"strokeWidth":2.3},"encoding":{"y":{"field":"y","type":"quantitative","scale":{"domain":[-0.05,1.05],"nice":false,"zero":false},"axis":null}}},
 {"data":{"values":[{"t":-1}]},"mark":{"type":"rule","color":"#FFFF00","strokeDash":[8,7],"strokeWidth":2.3},"encoding":{"x":{"field":"t","type":"quantitative","scale":{"domain":[-19.33,14.5],"nice":false,"zero":false},"axis":{"orient":"top","domain":true,"domainColor":"#D9D9D9","domainWidth":33,"offset":16.5,"ticks":false,"labels":false,"grid":false,"title":"dgm: Unequal, Non-Skewed","titleFontSize":16.5,"titleColor":"#1A1A1A","titleY":4.8,"titleBaseline":"alphabetic","titleAlign":"center"}}}}
]},
{"width":203,"height":195,"resolve":{"axis":{"x":"independent","y":"independent"}},"layer":[
 {"data":{"name":"zip"},"transform":[{"filter":"datum.p=='c1'"}],"mark":{"type":"rule","strokeWidth":4.4},"encoding":{
  "x":{"field":"l","type":"quantitative","scale":{"domain":[-19.33,14.5],"nice":false,"zero":false},"axis":{"values":[-15,-10,-5,0,5,10],"ticks":false,"labels":false,"title":null,"gridWidth":{"condition":{"test":"datum.value % 10 == 0","value":2},"value":1}}},
  "x2":{"field":"u"},
  "y":{"field":"y","type":"quantitative","scale":{"domain":[-0.05,1.05],"nice":false,"zero":false},"axis":{"values":[0,0.125,0.25,0.375,0.5,0.625,0.75,0.875,1],"ticks":false,"labels":false,"title":null,"gridWidth":{"condition":{"test":"(datum.value*4) % 1 == 0","value":2},"value":1}}},
  "color":{"field":"g","type":"nominal","scale":{"domain":["C","N"],"range":["#F8766D","#00BFC4"]},"legend":{"title":null,"orient":"none","legendX":293,"legendY":486,"direction":"horizontal","symbolType":"stroke","symbolStrokeWidth":2,"symbolSize":729,"labelFontSize":16.5,"labelColor":"#000000","labelFont":"Liberation Sans","labelOffset":12,"columnPadding":14,"labelExpr":"datum.label == 'C' ? 'Coverers' : 'Non-coverers'"}}}},
 {"data":{"name":"cov"},"transform":[{"filter":"datum.p=='c1'"}],"mark":{"type":"rule","color":"#FFFF00","strokeDash":[8,7],"strokeWidth":2.3},"encoding":{"y":{"field":"y","type":"quantitative","scale":{"domain":[-0.05,1.05],"nice":false,"zero":false},"axis":null}}},
 {"data":{"values":[{"t":-1}]},"mark":{"type":"rule","color":"#FFFF00","strokeDash":[8,7],"strokeWidth":2.3},"encoding":{"x":{"field":"t","type":"quantitative","scale":{"domain":[-19.33,14.5],"nice":false,"zero":false},"axis":{"orient":"top","domain":true,"domainColor":"#D9D9D9","domainWidth":33,"offset":16.5,"ticks":false,"labels":false,"grid":false,"title":"dgm: Equal, Skewed","titleFontSize":16.5,"titleColor":"#1A1A1A","titleY":4.8,"titleBaseline":"alphabetic","titleAlign":"center"}}}}
]},
{"width":203,"height":195,"resolve":{"axis":{"x":"independent","y":"independent"}},"layer":[
 {"data":{"name":"zip"},"transform":[{"filter":"datum.p=='d1'"}],"mark":{"type":"rule","strokeWidth":4.4},"encoding":{
  "x":{"field":"l","type":"quantitative","scale":{"domain":[-19.33,14.5],"nice":false,"zero":false},"axis":{"values":[-15,-10,-5,0,5,10],"ticks":false,"labels":false,"title":null,"gridWidth":{"condition":{"test":"datum.value % 10 == 0","value":2},"value":1}}},
  "x2":{"field":"u"},
  "y":{"field":"y","type":"quantitative","scale":{"domain":[-0.05,1.05],"nice":false,"zero":false},"axis":{"values":[0,0.125,0.25,0.375,0.5,0.625,0.75,0.875,1],"ticks":false,"labels":false,"title":null,"gridWidth":{"condition":{"test":"(datum.value*4) % 1 == 0","value":2},"value":1}}},
  "color":{"field":"g","type":"nominal","scale":{"domain":["C","N"],"range":["#F8766D","#00BFC4"]},"legend":{"title":null,"orient":"none","legendX":293,"legendY":486,"direction":"horizontal","symbolType":"stroke","symbolStrokeWidth":2,"symbolSize":729,"labelFontSize":16.5,"labelColor":"#000000","labelFont":"Liberation Sans","labelOffset":12,"columnPadding":14,"labelExpr":"datum.label == 'C' ? 'Coverers' : 'Non-coverers'"}}}},
 {"data":{"name":"cov"},"transform":[{"filter":"datum.p=='d1'"}],"mark":{"type":"rule","color":"#FFFF00","strokeDash":[8,7],"strokeWidth":2.3},"encoding":{"y":{"field":"y","type":"quantitative","scale":{"domain":[-0.05,1.05],"nice":false,"zero":false},"axis":{"orient":"right","domain":true,"domainColor":"#D9D9D9","domainWidth":26,"offset":13,"ticks":false,"labels":false,"grid":false,"title":"t-test (NP)","titleFontSize":16.5,"titleColor":"#1A1A1A","titleAngle":90,"titleX":-5,"titleY":97.5,"titleBaseline":"alphabetic","titleAlign":"center"}}}},
 {"data":{"values":[{"t":-1}]},"mark":{"type":"rule","color":"#FFFF00","strokeDash":[8,7],"strokeWidth":2.3},"encoding":{"x":{"field":"t","type":"quantitative","scale":{"domain":[-19.33,14.5],"nice":false,"zero":false},"axis":{"orient":"top","domain":true,"domainColor":"#D9D9D9","domainWidth":33,"offset":16.5,"ticks":false,"labels":false,"grid":false,"title":"dgm: Unequal, Skewed","titleFontSize":16.5,"titleColor":"#1A1A1A","titleY":4.8,"titleBaseline":"alphabetic","titleAlign":"center"}}}}
]},
{"width":203,"height":195,"resolve":{"axis":{"x":"independent","y":"independent"}},"layer":[
 {"data":{"name":"zip"},"transform":[{"filter":"datum.p=='a2'"}],"mark":{"type":"rule","strokeWidth":4.4},"encoding":{
  "x":{"field":"l","type":"quantitative","scale":{"domain":[-19.33,14.5],"nice":false,"zero":false},"axis":{"values":[-15,-10,-5,0,5,10],"labelExpr":"datum.value % 10 == 0 ? '' + datum.value : ''","tickOpacity":{"condition":{"test":"datum.value % 10 == 0","value":1},"value":0},"gridWidth":{"condition":{"test":"datum.value % 10 == 0","value":2},"value":1},"title":"95% confidence intervals","titleX":421,"titleY":45,"titleBaseline":"alphabetic","titleAlign":"center"}},
  "x2":{"field":"u"},
  "y":{"field":"y","type":"quantitative","scale":{"domain":[-0.05,1.05],"nice":false,"zero":false},"axis":{"values":[0,0.125,0.25,0.375,0.5,0.625,0.75,0.875,1],"labelExpr":"(datum.value*4) % 1 == 0 ? format(datum.value,'.2f') : ''","tickOpacity":{"condition":{"test":"(datum.value*4) % 1 == 0","value":1},"value":0},"gridWidth":{"condition":{"test":"(datum.value*4) % 1 == 0","value":2},"value":1},"title":null}},
  "color":{"field":"g","type":"nominal","scale":{"domain":["C","N"],"range":["#F8766D","#00BFC4"]},"legend":{"title":null,"orient":"none","legendX":293,"legendY":486,"direction":"horizontal","symbolType":"stroke","symbolStrokeWidth":2,"symbolSize":729,"labelFontSize":16.5,"labelColor":"#000000","labelFont":"Liberation Sans","labelOffset":12,"columnPadding":14,"labelExpr":"datum.label == 'C' ? 'Coverers' : 'Non-coverers'"}}}},
 {"data":{"name":"cov"},"transform":[{"filter":"datum.p=='a2'"}],"mark":{"type":"rule","color":"#FFFF00","strokeDash":[8,7],"strokeWidth":2.3},"encoding":{"y":{"field":"y","type":"quantitative","scale":{"domain":[-0.05,1.05],"nice":false,"zero":false},"axis":null}}},
 {"data":{"values":[{"t":-1}]},"mark":{"type":"rule","color":"#FFFF00","strokeDash":[8,7],"strokeWidth":2.3},"encoding":{"x":{"field":"t","type":"quantitative","scale":{"domain":[-19.33,14.5],"nice":false,"zero":false},"axis":null}}}
]},
{"width":203,"height":195,"resolve":{"axis":{"x":"independent","y":"independent"}},"layer":[
 {"data":{"name":"zip"},"transform":[{"filter":"datum.p=='b2'"}],"mark":{"type":"rule","strokeWidth":4.4},"encoding":{
  "x":{"field":"l","type":"quantitative","scale":{"domain":[-19.33,14.5],"nice":false,"zero":false},"axis":{"values":[-15,-10,-5,0,5,10],"labelExpr":"datum.value % 10 == 0 ? '' + datum.value : ''","tickOpacity":{"condition":{"test":"datum.value % 10 == 0","value":1},"value":0},"gridWidth":{"condition":{"test":"datum.value % 10 == 0","value":2},"value":1},"title":null}},
  "x2":{"field":"u"},
  "y":{"field":"y","type":"quantitative","scale":{"domain":[-0.05,1.05],"nice":false,"zero":false},"axis":{"values":[0,0.125,0.25,0.375,0.5,0.625,0.75,0.875,1],"ticks":false,"labels":false,"title":null,"gridWidth":{"condition":{"test":"(datum.value*4) % 1 == 0","value":2},"value":1}}},
  "color":{"field":"g","type":"nominal","scale":{"domain":["C","N"],"range":["#F8766D","#00BFC4"]},"legend":{"title":null,"orient":"none","legendX":293,"legendY":486,"direction":"horizontal","symbolType":"stroke","symbolStrokeWidth":2,"symbolSize":729,"labelFontSize":16.5,"labelColor":"#000000","labelFont":"Liberation Sans","labelOffset":12,"columnPadding":14,"labelExpr":"datum.label == 'C' ? 'Coverers' : 'Non-coverers'"}}}},
 {"data":{"name":"cov"},"transform":[{"filter":"datum.p=='b2'"}],"mark":{"type":"rule","color":"#FFFF00","strokeDash":[8,7],"strokeWidth":2.3},"encoding":{"y":{"field":"y","type":"quantitative","scale":{"domain":[-0.05,1.05],"nice":false,"zero":false},"axis":null}}},
 {"data":{"values":[{"t":-1}]},"mark":{"type":"rule","color":"#FFFF00","strokeDash":[8,7],"strokeWidth":2.3},"encoding":{"x":{"field":"t","type":"quantitative","scale":{"domain":[-19.33,14.5],"nice":false,"zero":false},"axis":null}}}
]},
{"width":203,"height":195,"resolve":{"axis":{"x":"independent","y":"independent"}},"layer":[
 {"data":{"name":"zip"},"transform":[{"filter":"datum.p=='c2'"}],"mark":{"type":"rule","strokeWidth":4.4},"encoding":{
  "x":{"field":"l","type":"quantitative","scale":{"domain":[-19.33,14.5],"nice":false,"zero":false},"axis":{"values":[-15,-10,-5,0,5,10],"labelExpr":"datum.value % 10 == 0 ? '' + datum.value : ''","tickOpacity":{"condition":{"test":"datum.value % 10 == 0","value":1},"value":0},"gridWidth":{"condition":{"test":"datum.value % 10 == 0","value":2},"value":1},"title":null}},
  "x2":{"field":"u"},
  "y":{"field":"y","type":"quantitative","scale":{"domain":[-0.05,1.05],"nice":false,"zero":false},"axis":{"values":[0,0.125,0.25,0.375,0.5,0.625,0.75,0.875,1],"ticks":false,"labels":false,"title":null,"gridWidth":{"condition":{"test":"(datum.value*4) % 1 == 0","value":2},"value":1}}},
  "color":{"field":"g","type":"nominal","scale":{"domain":["C","N"],"range":["#F8766D","#00BFC4"]},"legend":{"title":null,"orient":"none","legendX":293,"legendY":486,"direction":"horizontal","symbolType":"stroke","symbolStrokeWidth":2,"symbolSize":729,"labelFontSize":16.5,"labelColor":"#000000","labelFont":"Liberation Sans","labelOffset":12,"columnPadding":14,"labelExpr":"datum.label == 'C' ? 'Coverers' : 'Non-coverers'"}}}},
 {"data":{"name":"cov"},"transform":[{"filter":"datum.p=='c2'"}],"mark":{"type":"rule","color":"#FFFF00","strokeDash":[8,7],"strokeWidth":2.3},"encoding":{"y":{"field":"y","type":"quantitative","scale":{"domain":[-0.05,1.05],"nice":false,"zero":false},"axis":null}}},
 {"data":{"values":[{"t":-1}]},"mark":{"type":"rule","color":"#FFFF00","strokeDash":[8,7],"strokeWidth":2.3},"encoding":{"x":{"field":"t","type":"quantitative","scale":{"domain":[-19.33,14.5],"nice":false,"zero":false},"axis":null}}}
]},
{"width":203,"height":195,"resolve":{"axis":{"x":"independent","y":"independent"}},"layer":[
 {"data":{"name":"zip"},"transform":[{"filter":"datum.p=='d2'"}],"mark":{"type":"rule","strokeWidth":4.4},"encoding":{
  "x":{"field":"l","type":"quantitative","scale":{"domain":[-19.33,14.5],"nice":false,"zero":false},"axis":{"values":[-15,-10,-5,0,5,10],"labelExpr":"datum.value % 10 == 0 ? '' + datum.value : ''","tickOpacity":{"condition":{"test":"datum.value % 10 == 0","value":1},"value":0},"gridWidth":{"condition":{"test":"datum.value % 10 == 0","value":2},"value":1},"title":null}},
  "x2":{"field":"u"},
  "y":{"field":"y","type":"quantitative","scale":{"domain":[-0.05,1.05],"nice":false,"zero":false},"axis":{"values":[0,0.125,0.25,0.375,0.5,0.625,0.75,0.875,1],"ticks":false,"labels":false,"title":null,"gridWidth":{"condition":{"test":"(datum.value*4) % 1 == 0","value":2},"value":1}}},
  "color":{"field":"g","type":"nominal","scale":{"domain":["C","N"],"range":["#F8766D","#00BFC4"]},"legend":{"title":null,"orient":"none","legendX":293,"legendY":486,"direction":"horizontal","symbolType":"stroke","symbolStrokeWidth":2,"symbolSize":729,"labelFontSize":16.5,"labelColor":"#000000","labelFont":"Liberation Sans","labelOffset":12,"columnPadding":14,"labelExpr":"datum.label == 'C' ? 'Coverers' : 'Non-coverers'"}}}},
 {"data":{"name":"cov"},"transform":[{"filter":"datum.p=='d2'"}],"mark":{"type":"rule","color":"#FFFF00","strokeDash":[8,7],"strokeWidth":2.3},"encoding":{"y":{"field":"y","type":"quantitative","scale":{"domain":[-0.05,1.05],"nice":false,"zero":false},"axis":{"orient":"right","domain":true,"domainColor":"#D9D9D9","domainWidth":26,"offset":13,"ticks":false,"labels":false,"grid":false,"title":"t-test (P)","titleFontSize":16.5,"titleColor":"#1A1A1A","titleAngle":90,"titleX":-5,"titleY":97.5,"titleBaseline":"alphabetic","titleAlign":"center"}}}},
 {"data":{"values":[{"t":-1}]},"mark":{"type":"rule","color":"#FFFF00","strokeDash":[8,7],"strokeWidth":2.3},"encoding":{"x":{"field":"t","type":"quantitative","scale":{"domain":[-19.33,14.5],"nice":false,"zero":false},"axis":null}}}
]}
]
}
